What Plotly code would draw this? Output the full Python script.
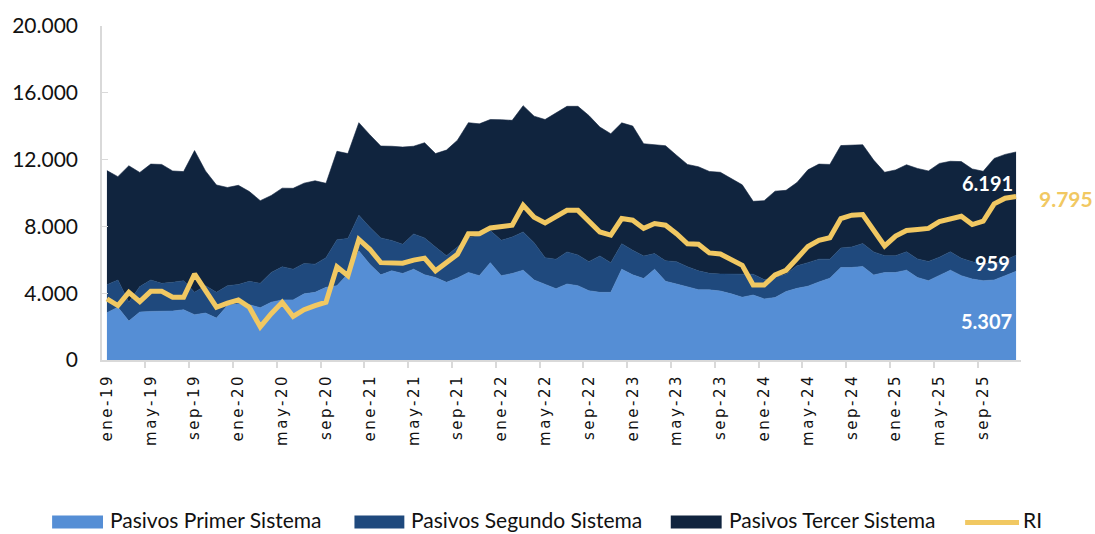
import plotly.graph_objects as go

# ---------------------------------------------------------------------------------
# data (monthly, ene-19 .. dic-25)
# ---------------------------------------------------------------------------------
mes_abrev = ["ene", "feb", "mar", "abr", "may", "jun", "jul", "ago", "sep", "oct", "nov", "dic"]
meses = [f"{m}-{a}" for a in range(19, 26) for m in mes_abrev]

tick_labels = ["ene-19", "may-19", "sep-19", "ene-20", "may-20", "sep-20", "ene-21", "may-21",
               "sep-21", "ene-22", "may-22", "sep-22", "ene-23", "may-23", "sep-23", "ene-24",
               "may-24", "sep-24", "ene-25", "may-25", "sep-25"]

primer = [2830, 3160, 2330, 2870, 2910, 2910, 2930, 3010, 2710, 2810,
          2510, 3260, 3370, 3310, 3130, 3460, 3600, 3600, 3960, 4050,
          4350, 4450, 5160, 6530, 5740, 5100, 5340, 5180, 5440, 5100,
          4940, 4650, 4910, 5240, 5050, 5830, 5050, 5180, 5380, 4790,
          4510, 4270, 4550, 4450, 4150, 4050, 4050, 5440, 5100, 4880,
          5440, 4710, 4550, 4390, 4210, 4200, 4130, 3960, 3760, 3890,
          3660, 3740, 4100, 4290, 4420, 4670, 4900, 5540, 5540, 5600,
          5090, 5240, 5240, 5380, 4940, 4750, 5050, 5380, 5050, 4850,
          4750, 4790, 5050, 5307]

segundo = [1680, 1630, 1130, 1530, 1880, 1680, 1720, 1740, 1340, 1640,
           1540, 1190, 1150, 1400, 1460, 1780, 1980, 1840, 1820, 1690,
           1780, 2750, 2120, 2140, 2210, 2210, 1820, 1750, 2110, 2210,
           1820, 1590, 1860, 2080, 2370, 1920, 2120, 2180, 2290, 2230,
           1620, 1760, 1920, 1840, 1740, 2180, 1780, 1520, 1470, 1350,
           930, 1230, 1340, 1190, 1130, 990, 1020, 1190, 1410, 1250,
           1150, 1210, 1040, 1350, 1410, 1370, 1140, 1170, 1230, 1370,
           1380, 1010, 1010, 1100, 1110, 1150, 1110, 1100, 1040, 1030,
           1010, 1000, 930, 959]

tercer = [6830, 6190, 8170, 6830, 6940, 7120, 6670, 6530, 8490, 6870,
          6430, 5880, 5940, 5380, 4950, 4610, 4710, 4840, 4810, 4990,
          4450, 5300, 5080, 5540, 5540, 5500, 5640, 5820, 5250, 5700,
          5600, 6330, 6390, 6890, 6720, 6650, 7220, 6990, 7560, 7580,
          8270, 8770, 8720, 8900, 8750, 7720, 7720, 7240, 7440, 6720,
          6530, 6890, 6370, 6130, 6230, 6100, 6090, 5730, 5320, 4360,
          4730, 5160, 5020, 4990, 5560, 5690, 5670, 6130, 6110, 5920,
          5500, 4990, 5130, 5210, 5420, 5420, 5610, 5420, 5790, 5560,
          5540, 6280, 6330, 6191]

ri = [3660, 3260, 4050, 3500, 4110, 4110, 3760, 3760, 5150, 4160,
      3160, 3400, 3600, 3160, 1980, 2770, 3460, 2610, 3010, 3260,
      3460, 5580, 5050, 7220, 6630, 5830, 5800, 5800, 5980, 6100,
      5340, 5830, 6330, 7560, 7560, 7910, 8010, 8070, 9260, 8550,
      8210, 8610, 8960, 8960, 8310, 7670, 7480, 8470, 8370, 7880,
      8170, 8070, 7560, 6960, 6930, 6410, 6350, 6050, 5670, 4490,
      4490, 5090, 5370, 6080, 6800, 7160, 7320, 8470, 8670, 8710,
      7730, 6830, 7420, 7760, 7820, 7880, 8290, 8470, 8610, 8110,
      8310, 9350, 9690, 9795]

y_ticks = [0, 4000, 8000, 12000, 16000, 20000]

# colours
c_primer = "#558ED5"
c_segundo = "#1F497D"
c_tercer = "#10243E"
c_ri = "#F1C862"
c_axis = "#D9D9D9"


def fmt_es(v):
    # 12345 -> "12.345"
    return f"{v:,}".replace(",", ".")


# plot area in pixels (used for the hand-made legend)
L, R, T, B = 100, 1021, 23, 360


def px_x(px):
    return (px - L) / (R - L)


def px_y(py):
    return (B - py) / (B - T)


idx = list(range(len(meses)))

fig = go.Figure()

for name, values, color in [("Pasivos Primer Sistema", primer, c_primer),
                            ("Pasivos Segundo Sistema", segundo, c_segundo),
                            ("Pasivos Tercer Sistema", tercer, c_tercer)]:
    fig.add_trace(go.Scatter(x=idx, y=values, name=name, stackgroup="pasivos", mode="lines",
                             line=dict(width=0.6, color=color), fillcolor=color,
                             text=meses, showlegend=False))

fig.add_trace(go.Scatter(x=idx, y=ri, name="RI", mode="lines", text=meses,
                         line=dict(width=5, color=c_ri), showlegend=False))

# value labels for the last month
last = len(meses) - 1
annotations = [
    dict(x=last, y=primer[last] * 0.44, text=f"<b>{fmt_es(primer[last])}</b>", xanchor="right",
         xshift=-2, font=dict(color="white", size=20)),
    dict(x=last, y=primer[last] + segundo[last] / 2, text=f"<b>{fmt_es(segundo[last])}</b>",
         xanchor="right", xshift=-4, font=dict(color="white", size=20)),
    dict(x=last, y=primer[last] + segundo[last] + tercer[last] * 0.70,
         text=f"<b>{fmt_es(tercer[last])}</b>", xanchor="right", xshift=-1,
         font=dict(color="white", size=20)),
    dict(x=last, y=ri[last], text=f"<b>{fmt_es(ri[last])}</b>", xanchor="left", xshift=21,
         yshift=-2, font=dict(color=c_ri, size=21)),
]
for a in annotations:
    a.update(xref="x", yref="y", showarrow=False, yanchor="middle")

# legend drawn by hand so the swatches match the original
shapes = []
legend_items = [("Pasivos Primer Sistema", c_primer, "box", 50, 101, 107),
                ("Pasivos Segundo Sistema", c_segundo, "box", 353, 403, 409),
                ("Pasivos Tercer Sistema", c_tercer, "box", 670, 721, 727),
                ("RI", c_ri, "line", 965, 1019, 1022)]
for name, color, kind, x0, x1, tx in legend_items:
    if kind == "box":
        shapes.append(dict(type="rect", xref="paper", yref="paper", x0=px_x(x0), x1=px_x(x1),
                           y0=px_y(530), y1=px_y(517), fillcolor=color, line=dict(width=0)))
    else:
        shapes.append(dict(type="line", xref="paper", yref="paper", x0=px_x(x0), x1=px_x(x1),
                           y0=px_y(524), y1=px_y(524), line=dict(color=color, width=5)))
    annotations.append(dict(x=px_x(tx), y=px_y(521), xref="paper", yref="paper", text=name,
                            showarrow=False, xanchor="left", yanchor="middle", borderpad=0,
                            font=dict(size=21, color="#111111")))

fig.update_layout(
    width=1095,
    height=534,
    margin=dict(l=L, r=1095 - R, t=T, b=534 - B),
    paper_bgcolor="white",
    plot_bgcolor="white",
    font=dict(family="Lato, Carlito, sans-serif", color="#111111"),
    showlegend=False,
    annotations=annotations,
    shapes=shapes,
    xaxis=dict(
        range=[-0.45, last + 0.45],
        tickmode="array",
        tickvals=[i * 4 for i in range(len(tick_labels))],
        ticktext=tick_labels,
        tickangle=-90,
        tickfont=dict(family="DejaVu Sans", size=15, color="#111111"),
        ticks="",
        ticklabelstandoff=6,
        showline=True,
        linecolor=c_axis,
        linewidth=2,
        showgrid=False,
        zeroline=False,
        minor=dict(tickmode="array", tickvals=[i * 4 + 3.5 for i in range(len(tick_labels))],
                   ticks="outside", ticklen=6, tickwidth=1.5, tickcolor=c_axis, showgrid=False),
    ),
    yaxis=dict(
        range=[0, 20000],
        tickmode="array",
        tickvals=y_ticks,
        ticktext=[fmt_es(v) for v in y_ticks],
        tickfont=dict(size=21, color="#111111"),
        ticks="inside",
        ticklen=6,
        tickcolor=c_axis,
        ticklabelstandoff=18,
        showline=True,
        linecolor=c_axis,
        linewidth=1.5,
        showgrid=False,
        zeroline=False,
    ),
)

# no page margin, and the month labels in the original are widely spaced
page_js = ("document.body.style.margin='0';"
           "document.querySelectorAll('.xtick text').forEach(function(t){t.style.letterSpacing='2.5px';});")

fig.write_html("out.html", post_script=page_js, config={"displayModeBar": False})
